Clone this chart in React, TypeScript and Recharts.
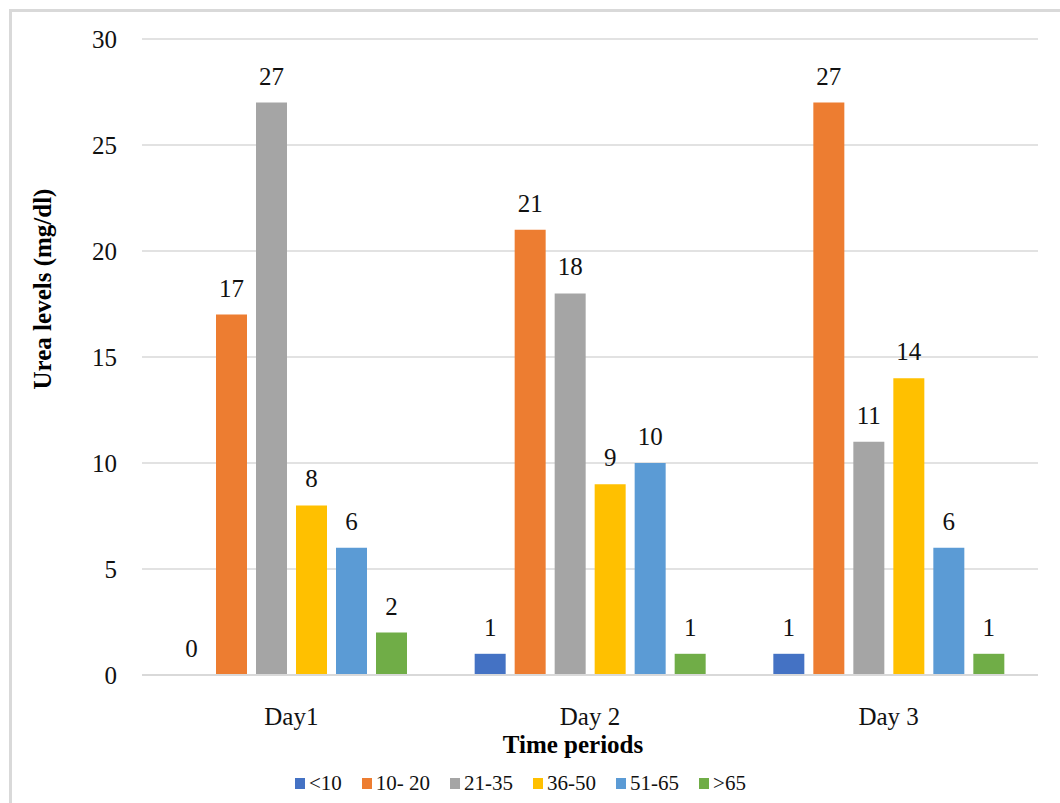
import { BarChart, Bar, XAxis, YAxis, CartesianGrid, Legend, LabelList } from "recharts"

const periods = ["Day1", "Day 2", "Day 3"]
const ageGroups = ["<10", "10- 20", "21-35", "36-50", "51-65", ">65"]
const colors = ["#4472C4", "#ED7D31", "#A5A5A5", "#FFC000", "#5B9BD5", "#70AD47"]

// one array per age group, one value per period
const under10 = [0, 1, 1]
const age10to20 = [17, 21, 27]
const age21to35 = [27, 18, 11]
const age36to50 = [8, 9, 14]
const age51to65 = [6, 10, 6]
const over65 = [2, 1, 1]

const yTicks = [0, 5, 10, 15, 20, 25, 30]

const seriesValues = [under10, age10to20, age21to35, age36to50, age51to65, over65]

const chartData = periods.map((name, i) => {
  const row: Record<string, string | number> = { name }
  ageGroups.forEach((g, j) => {
    row[g] = seriesValues[j][i]
  })
  return row
})

const FONT = '"Liberation Serif", "Times New Roman", serif'

function LegendContent() {
  return (
    <div
      style={{
        display: "flex",
        alignItems: "center",
        paddingLeft: 295,
        paddingTop: 16,
        fontFamily: FONT,
        fontSize: 21,
        color: "#111",
      }}
    >
      {ageGroups.map((g, i) => (
        <div key={g} style={{ display: "flex", alignItems: "center", marginRight: 20 }}>
          <span style={{ width: 10, height: 11, background: colors[i], marginRight: 4, display: "inline-block" }} />
          <span style={{ whiteSpace: "pre" }}>{g}</span>
        </div>
      ))}
    </div>
  )
}

// zero-value bars get a hairline height so their "0" label is still drawn
const keepZeroBar = (value: number) => (value === 0 ? 0.01 : 0)

export default function App() {
  return (
    <div style={{ position: "fixed", left: 0, top: 0, width: 1060, height: 803, overflow: "hidden", background: "#fff" }}>
      <div
        style={{
          position: "absolute",
          left: 9,
          top: 9,
          width: 1100,
          height: 900,
          border: "3px solid #d9d9d9",
        }}
      />
      <div style={{ position: "absolute", left: 0, top: 0 }}>
        <BarChart
          width={1060}
          height={803}
          data={chartData}
          margin={{ top: 39, right: 22, left: 0, bottom: 0 }}
          barGap={9}
          barCategoryGap={34}
        >
          <CartesianGrid vertical={false} stroke="#d9d9d9" strokeWidth={1.5} />
          <XAxis
            dataKey="name"
            height={80}
            axisLine={{ stroke: "#d9d9d9", strokeWidth: 2 }}
            tickLine={false}
            tickSize={0}
            tickMargin={32}
            tick={{ fontFamily: FONT, fontSize: 25, fill: "#111" }}
            label={() => (
              <text x={573} y={753} textAnchor="middle" fontFamily={FONT} fontSize={25} fontWeight="bold" fill="#000">
                Time periods
              </text>
            )}
          />
          <YAxis
            width={142}
            domain={[0, 30]}
            ticks={yTicks}
            axisLine={false}
            tickLine={false}
            tickSize={0}
            tickMargin={25}
            tick={{ fontFamily: FONT, fontSize: 25, fill: "#111" }}
            label={() => (
              <text
                x={42}
                y={289}
                transform="rotate(-90 42 289)"
                textAnchor="middle"
                dominantBaseline="central"
                fontFamily={FONT}
                fontSize={25}
                fontWeight="bold"
                fill="#000"
              >
                Urea levels (mg/dl)
              </text>
            )}
          />
          <Legend verticalAlign="bottom" height={48} content={() => <LegendContent />} />
          {ageGroups.map((g, i) => (
            <Bar key={g} dataKey={g} fill={colors[i]} minPointSize={keepZeroBar} isAnimationActive={false}>
              <LabelList dataKey={g} position="top" offset={18} style={{ fontFamily: FONT, fontSize: 25, fill: "#111" }} />
            </Bar>
          ))}
        </BarChart>
      </div>
    </div>
  )
}
